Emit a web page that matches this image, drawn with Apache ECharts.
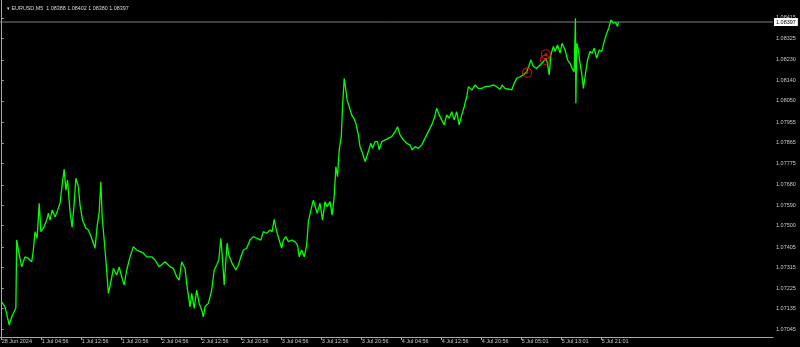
<!DOCTYPE html>
<html>
<head>
<meta charset="utf-8">
<script src="https://cdn.jsdelivr.net/npm/echarts@6/dist/echarts.min.js"></script>
<style>html,body{margin:0;padding:0;background:#000;}#c{width:800px;height:347px;}</style>
</head>
<body>
<div id="c"></div>
<script>
// M5 bar index since 28 Jun 2024 20:56
const bars = [0,8,18,24,28,34,36,40,48,56,64,72,76,80,85,90,94,100,108,112,116,121,128,133,140,145,150,154,158,164,169,174,178,184,188,194,202,208,216,224,229,234,238,241,246,250,256,262,268,276,282,288,294,300,308,316,324,332,340,348,360,368,378,
392,404,412,420,426,432,440,445,452,456,462,468,474,480,484,488,496,504,510,516,521,526,530,534,538,541,545,553,562,568,574,580,588,596,604,612,622,628,636,644,649,654,660,666,672,676,682,688,696,704,710,714,720,726,732,
736,742,748,752,757,764,770,776,781,788,793,798,802,806,810,815,818,822,826,829,834,840,845,850,856,860,866,872,876,880,886,890,896,902,906,912,
920,928,936,944,950,956,964,972,980,985,992,1000,1008,1014,1020,1026,1032,1038,1044,1050,1056,1062,1068,1074,1080,1086,1092,1098,1104,1110,1116,1120,1124,1129,1136,1144,1152,1160,1172,1180,1188,1196,1201,1208,1218,
1224,1230,1236,1244,1252,1260,1265,1270,1276,1284,1292,1300,1306,1310,1314,1318,1324,1328,1334,1340,1345,1352,1358,1364,1369,1374,1377,1378,1380,1384,1388,1392,1396,1400,1406,1412,1417,1422,1428,1434,1440,1446,1452,1457,1462,1468,1474,1478,1480];
const closes = [1.07165,1.07143,1.07063,1.07099,1.07093,1.07138,1.07437,1.07393,1.07319,1.07363,1.07356,1.07341,1.07393,1.07474,1.07445,1.07599,1.07474,1.07489,1.07525,1.07555,1.07525,1.07569,1.07540,1.07562,1.07599,1.07679,1.07749,1.07657,1.07701,1.07562,1.07493,1.07599,1.07709,1.07672,1.07591,1.07525,1.07489,1.07481,1.07445,1.07401,1.07496,1.07562,1.07694,1.07540,1.07437,1.07349,1.07202,1.07253,1.07312,1.07283,1.07319,1.07275,1.07239,1.07305,1.07363,1.07408,1.07393,1.07386,1.07379,1.07363,1.07363,1.07349,1.07319,
1.07341,1.07319,1.07312,1.07275,1.07261,1.07341,1.07312,1.07231,1.07143,1.07202,1.07136,1.07217,1.07158,1.07129,1.07099,1.07143,1.07158,1.07217,1.07305,1.07327,1.07349,1.07445,1.07349,1.07239,1.07349,1.07423,1.07371,1.07334,1.07305,1.07327,1.07363,1.07393,1.07401,1.07437,1.07452,1.07445,1.07437,1.07474,1.07467,1.07481,1.07474,1.07528,1.07474,1.07437,1.07401,1.07437,1.07452,1.07430,1.07437,1.07430,1.07415,1.07363,1.07393,1.07363,1.07415,
1.07518,1.07569,1.07613,1.07621,1.07555,1.07599,1.07525,1.07606,1.07584,1.07606,1.07547,1.07628,1.07760,1.07716,1.07834,1.07892,1.08024,1.08149,1.08098,1.08054,1.08024,1.07988,1.07973,1.07951,1.07900,1.07848,1.07819,1.07782,1.07804,1.07812,1.07863,1.07841,1.07870,1.07870,1.07834,1.07870,
1.07878,1.07885,1.07892,1.07914,1.07936,1.07900,1.07878,1.07863,1.07856,1.07834,1.07848,1.07841,1.07856,1.07878,1.07900,1.07922,1.07944,1.07973,1.08017,1.07988,1.07966,1.07944,1.07988,1.07973,1.08002,1.07966,1.08002,1.07944,1.07988,1.08024,1.08068,1.08112,1.08120,1.08098,1.08120,1.08105,1.08105,1.08112,1.08115,1.08120,1.08112,1.08101,1.08120,1.08105,1.08101,
1.08098,1.08127,1.08149,1.08156,1.08164,1.08178,1.08201,1.08230,1.08201,1.08193,1.08208,1.08223,1.08237,1.08215,1.08164,1.08252,1.08289,1.08267,1.08296,1.08260,1.08304,1.08274,1.08230,1.08215,1.08193,1.08178,1.08414,1.08039,1.08304,1.08274,1.08215,1.08171,1.08105,1.08156,1.08230,1.08267,1.08260,1.08282,1.08237,1.08274,1.08267,1.08311,1.08348,1.08370,1.08406,1.08392,1.08394,1.08377,1.08397];

const tradeBars = [1261, 1306, 1304];
const tradePrices = [1.08174, 1.08255, 1.08230];

const lastPrice = 1.08397;
const titleText = '\u25BE EURUSD,M5  1.08388 1.08402 1.08380 1.08397';

const xTickBars = [0,96,192,288,384,480,576,672,768,864,960,1056,1152,1248,1344,1440];
const xTickLabels = ['28 Jun 2024','1 Jul 04:56','1 Jul 12:56','1 Jul 20:56','2 Jul 04:56','2 Jul 12:56','2 Jul 20:56','3 Jul 04:56','3 Jul 12:56','3 Jul 20:56','4 Jul 04:56','4 Jul 12:56','4 Jul 20:56','5 Jul 05:01','5 Jul 13:01','5 Jul 21:01'];
const yTicks = [1.07045,1.07135,1.07225,1.07315,1.07405,1.07500,1.07590,1.07680,1.07775,1.07865,1.07955,1.08050,1.08140,1.08230,1.08325,1.08415];

const xMin = -4.08, xMax = 1851.12;
const lineData = bars.map((b, i) => [b, closes[i]]);
const tradeData = tradeBars.map((b, i) => [b, tradePrices[i]]);

const chart = echarts.init(document.getElementById('c'), null, {renderer: 'canvas'});
const fontFam = '"Liberation Sans", Arial, sans-serif';
chart.setOption({
  animation: false,
  backgroundColor: '#000',
  title: {
    text: titleText, left: 2, top: 1,
    textStyle: {color: '#d8d8d8', fontSize: 5.4, fontWeight: 'normal', fontFamily: fontFam}
  },
  grid: {left: 0, right: 27, top: 0, bottom: 10, containLabel: false, outerBoundsMode: 'none'},
  xAxis: {
    type: 'value', min: xMin, max: xMax,
    axisLine: {show: true, lineStyle: {color: '#a8a8a8', width: 1}},
    axisTick: {show: true, length: 3, customValues: xTickBars, lineStyle: {color: '#a8a8a8'}},
    axisLabel: {
      customValues: xTickBars, align: 'left', margin: 1, color: '#c8c8c8', fontSize: 5.5, fontFamily: fontFam,
      formatter: v => { const i = xTickBars.indexOf(Math.round(v)); return i >= 0 ? xTickLabels[i] : ''; }
    },
    splitLine: {show: false}
  },
  yAxis: {
    type: 'value', position: 'right', min: 1.07010, max: 1.08494,
    axisLine: {show: true, lineStyle: {color: '#a8a8a8', width: 1}},
    axisTick: {show: true, length: 2, customValues: yTicks, lineStyle: {color: '#a8a8a8'}},
    axisLabel: {
      customValues: yTicks, margin: 3, color: '#c8c8c8', fontSize: 5.5, fontFamily: fontFam,
      formatter: v => v.toFixed(5)
    },
    splitLine: {show: false}
  },
  series: [
    {
      type: 'line', data: lineData, symbol: 'none', showSymbol: false,
      lineStyle: {color: '#00ff00', width: 1.3}, itemStyle: {color: '#00ff00'}, z: 3
    },
    {
      type: 'line', data: [[xMin, lastPrice], [xMax, lastPrice]], symbol: 'none', showSymbol: false,
      lineStyle: {color: '#77808e', width: 1}, z: 2, silent: true,
      endLabel: {
        show: true, distance: 1, formatter: () => lastPrice.toFixed(5),
        backgroundColor: '#ffffff', color: '#000', fontSize: 5.5, fontFamily: fontFam, padding: [1, 2]
      }
    },
    {
      type: 'scatter', data: tradeData, symbol: 'circle', symbolSize: 9,
      itemStyle: {color: 'rgba(0,0,0,0)', borderColor: '#ff1010', borderWidth: 1.2}, z: 5
    },
    {
      type: 'scatter', data: tradeData, symbol: 'circle', symbolSize: 2.5,
      itemStyle: {color: '#ff1010'}, z: 6
    }
  ]
});
</script>
</body>
</html>
